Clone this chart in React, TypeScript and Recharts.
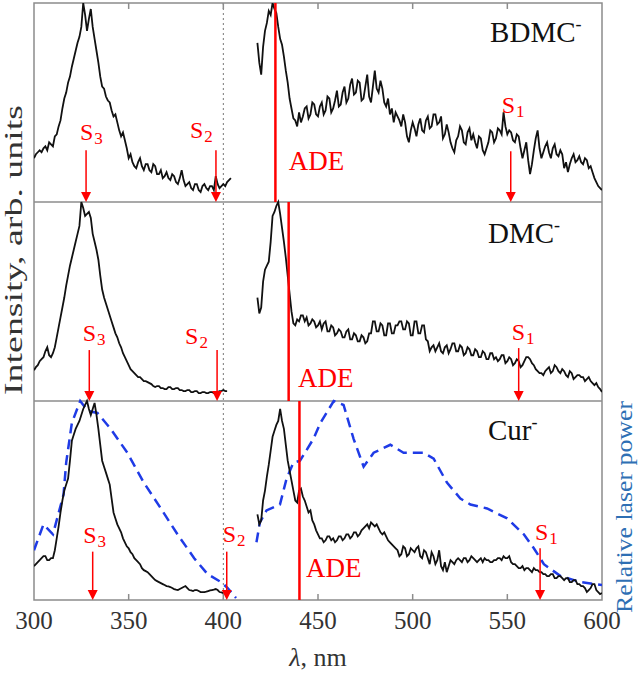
import React from 'react';
import { LineChart, Line, XAxis, YAxis, ReferenceLine, ReferenceArea, ReferenceDot } from 'recharts';

const FONT = '"Liberation Serif", "Times New Roman", Times, serif';
const RED = '#ff0000';
const DASH_BLUE = '#1f3be6';
const LABEL_BLUE = '#2e6fb4';
const FRAME = '#8c8c8c';

// wavelength grids (nm), 1 nm step
const leftX = [
  300, 301, 302, 303, 304, 305, 306, 307, 308, 309,
  310, 311, 312, 313, 314, 315, 316, 317, 318, 319,
  320, 321, 322, 323, 324, 325, 326, 327, 328, 329,
  330, 331, 332, 333, 334, 335, 336, 337, 338, 339,
  340, 341, 342, 343, 344, 345, 346, 347, 348, 349,
  350, 351, 352, 353, 354, 355, 356, 357, 358, 359,
  360, 361, 362, 363, 364, 365, 366, 367, 368, 369,
  370, 371, 372, 373, 374, 375, 376, 377, 378, 379,
  380, 381, 382, 383, 384, 385, 386, 387, 388, 389,
  390, 391, 392, 393, 394, 395, 396, 397, 398, 399,
  400, 401, 402, 403, 404,
];
const rightX = [
  418, 419, 420, 421, 422, 423, 424, 425, 426, 427,
  428, 429, 430, 431, 432, 433, 434, 435, 436, 437,
  438, 439, 440, 441, 442, 443, 444, 445, 446, 447,
  448, 449, 450, 451, 452, 453, 454, 455, 456, 457,
  458, 459, 460, 461, 462, 463, 464, 465, 466, 467,
  468, 469, 470, 471, 472, 473, 474, 475, 476, 477,
  478, 479, 480, 481, 482, 483, 484, 485, 486, 487,
  488, 489, 490, 491, 492, 493, 494, 495, 496, 497,
  498, 499, 500, 501, 502, 503, 504, 505, 506, 507,
  508, 509, 510, 511, 512, 513, 514, 515, 516, 517,
  518, 519, 520, 521, 522, 523, 524, 525, 526, 527,
  528, 529, 530, 531, 532, 533, 534, 535, 536, 537,
  538, 539, 540, 541, 542, 543, 544, 545, 546, 547,
  548, 549, 550, 551, 552, 553, 554, 555, 556, 557,
  558, 559, 560, 561, 562, 563, 564, 565, 566, 567,
  568, 569, 570, 571, 572, 573, 574, 575, 576, 577,
  578, 579, 580, 581, 582, 583, 584, 585, 586, 587,
  588, 589, 590, 591, 592, 593, 594, 595, 596, 597,
  598, 599, 600,
];

// BDMC- spectrum (normalised)
const bdmcLeft: (number | null)[] = [
  0.22, 0.24, 0.25, 0.26, 0.25, 0.27, 0.28, 0.26, 0.30, 0.29,
  0.28, 0.33, 0.34, 0.38, 0.41, 0.47, 0.52, 0.55, 0.60, 0.63,
  0.68, 0.72, 0.76, 0.80, 0.83, 0.88, 1.0, 0.94, 0.86, 0.92,
  0.97, 0.88, 0.82, 0.76, 0.70, 0.63, 0.58, 0.57, 0.53, 0.51,
  0.50, 0.46, 0.43, 0.44, 0.40, 0.36, 0.33, 0.35, 0.31, 0.27,
  0.22, 0.24, 0.20, 0.18, 0.17, 0.20, 0.22, 0.18, 0.16, 0.19,
  0.19, 0.16, 0.15, 0.19, 0.18, 0.14, 0.14, 0.16, 0.12, 0.13,
  0.15, 0.12, 0.11, 0.14, 0.13, 0.10, 0.09, 0.12, 0.16, 0.11,
  0.08, 0.09, 0.10, 0.07, 0.06, 0.09, 0.09, 0.06, 0.05, 0.08,
  0.09, 0.07, 0.06, 0.08, 0.08, 0.06, 0.13, 0.09, 0.07, 0.08,
  0.09, 0.08, 0.10, 0.11, 0.12,
];
const bdmcRight: (number | null)[] = [
  0.80, 0.70, 0.64, 0.78, 0.86, 0.90, 0.96, 0.94, 1.0, 0.97,
  0.95, 0.88, 0.82, 0.79, 0.73, 0.66, 0.60, 0.52, 0.47, 0.42,
  0.41, 0.38, 0.45, 0.40, 0.43, 0.47, 0.48, 0.42, 0.44, 0.50,
  0.49, 0.44, 0.43, 0.48, 0.50, 0.44, 0.46, 0.53, 0.52, 0.45,
  0.47, 0.51, 0.56, 0.48, 0.49, 0.55, 0.58, 0.50, 0.52, 0.59,
  0.62, 0.54, 0.55, 0.61, 0.60, 0.51, 0.52, 0.58, 0.64, 0.53,
  0.50, 0.58, 0.66, 0.57, 0.55, 0.61, 0.57, 0.50, 0.48, 0.52,
  0.44, 0.47, 0.40, 0.45, 0.43, 0.41, 0.38, 0.44, 0.40, 0.33,
  0.30, 0.36, 0.40, 0.37, 0.33, 0.39, 0.42, 0.36, 0.35, 0.41,
  0.43, 0.37, 0.38, 0.44, 0.44, 0.39, 0.40, 0.43, 0.32, 0.34,
  0.39, 0.35, 0.30, 0.27, 0.25, 0.31, 0.33, 0.38, 0.36, 0.30,
  0.29, 0.35, 0.37, 0.31, 0.34, 0.30, 0.27, 0.33, 0.32, 0.26,
  0.24, 0.27, 0.30, 0.36, 0.35, 0.30, 0.32, 0.37, 0.36, 0.34,
  0.45, 0.38, 0.34, 0.36, 0.35, 0.31, 0.30, 0.34, 0.33, 0.27,
  0.22, 0.26, 0.30, 0.21, 0.14, 0.19, 0.26, 0.32, 0.36, 0.27,
  0.22, 0.25, 0.28, 0.30, 0.25, 0.22, 0.27, 0.29, 0.24, 0.23,
  0.26, 0.24, 0.17, 0.20, 0.15, 0.19, 0.22, 0.24, 0.20, 0.21,
  0.23, 0.20, 0.19, 0.22, 0.21, 0.17, 0.18, 0.15, 0.12, 0.10,
  0.08, 0.07, 0.06,
];

// DMC- spectrum
const dmcLeft: (number | null)[] = [
  0.155, 0.17, 0.18, 0.20, 0.21, 0.22, 0.25, 0.27, 0.23, 0.22,
  0.24, 0.27, 0.32, 0.37, 0.42, 0.47, 0.52, 0.58, 0.63, 0.68,
  0.72, 0.76, 0.80, 0.84, 0.88, 1.0, 0.97, 0.93, 0.94, 0.95,
  0.92, 0.84, 0.80, 0.76, 0.71, 0.63, 0.56, 0.52, 0.49, 0.46,
  0.43, 0.40, 0.37, 0.34, 0.32, 0.29, 0.27, 0.24, 0.22, 0.20,
  0.18, 0.16, 0.15, 0.14, 0.13, 0.12, 0.12, 0.11, 0.10, 0.10,
  0.095, 0.09, 0.085, 0.075, 0.07, 0.075, 0.075, 0.065, 0.065, 0.06,
  0.06, 0.07, 0.07, 0.06, 0.06, 0.065, 0.065, 0.055, 0.055, 0.05,
  0.05, 0.055, 0.055, 0.045, 0.045, 0.05, 0.05, 0.04, 0.04, 0.045,
  0.045, 0.04, 0.04, 0.045, 0.045, 0.04, 0.04, 0.045, 0.05, 0.05,
  0.055, 0.05, 0.05, null, null,
];
const dmcRight: (number | null)[] = [
  0.52, 0.44, 0.47, 0.60, 0.66, 0.68, 0.70, 0.80, 0.93, 0.95,
  0.98, 1.0, 0.94, 0.87, 0.80, 0.72, 0.63, 0.54, 0.45, 0.39,
  0.38, 0.41, 0.40, 0.43, 0.43, 0.40, 0.42, 0.38, 0.39, 0.41,
  0.40, 0.37, 0.38, 0.40, 0.36, 0.39, 0.40, 0.35, 0.35, 0.38,
  0.37, 0.33, 0.34, 0.36, 0.35, 0.32, 0.32, 0.35, 0.36, 0.31,
  0.31, 0.34, 0.33, 0.30, 0.30, 0.33, 0.32, 0.29, 0.30, 0.34,
  0.34, 0.40, 0.40, 0.35, 0.35, 0.39, 0.38, 0.33, 0.33, 0.39,
  0.39, 0.34, 0.34, 0.38, 0.38, 0.40, 0.40, 0.36, 0.36, 0.40,
  0.39, 0.33, 0.33, 0.40, 0.40, 0.34, 0.34, 0.38, 0.38, 0.31,
  0.30, 0.25, 0.27, 0.28, 0.25, 0.27, 0.29, 0.25, 0.24, 0.27,
  0.28, 0.24, 0.26, 0.29, 0.29, 0.25, 0.25, 0.28, 0.27, 0.23,
  0.24, 0.27, 0.26, 0.23, 0.23, 0.26, 0.25, 0.22, 0.22, 0.25,
  0.24, 0.21, 0.21, 0.24, 0.24, 0.21, 0.22, 0.20, 0.21, 0.23,
  0.23, 0.19, 0.20, 0.22, 0.21, 0.18, 0.19, 0.21, 0.20, 0.17,
  0.18, 0.20, 0.22, 0.22, 0.21, 0.19, 0.18, 0.16, 0.15, 0.14,
  0.14, 0.13, 0.15, 0.16, 0.17, 0.14, 0.15, 0.18, 0.17, 0.15,
  0.14, 0.16, 0.15, 0.13, 0.12, 0.15, 0.14, 0.11, 0.12, 0.13,
  0.13, 0.12, 0.12, 0.10, 0.11, 0.12, 0.10, 0.09, 0.08, 0.09,
  0.07, 0.06, 0.045,
];

// Cur- spectrum
const curLeft: (number | null)[] = [
  0.17, 0.18, 0.19, 0.20, 0.21, 0.22, 0.22, 0.20, 0.20, 0.21,
  0.21, 0.25, 0.31, 0.37, 0.44, 0.50, 0.55, 0.58, 0.61, 0.70,
  0.80, 0.83, 0.86, 0.88, 0.90, 0.93, 0.96, 0.98, 1.0, 0.96,
  0.93, 0.96, 0.99, 0.93, 0.86, 0.78, 0.70, 0.67, 0.64, 0.61,
  0.58, 0.51, 0.44, 0.41, 0.38, 0.36, 0.34, 0.31, 0.29, 0.27,
  0.26, 0.24, 0.23, 0.21, 0.20, 0.19, 0.18, 0.16, 0.15, 0.145,
  0.14, 0.13, 0.12, 0.11, 0.10, 0.095, 0.09, 0.085, 0.08, 0.075,
  0.07, 0.068, 0.065, 0.06, 0.055, 0.052, 0.05, 0.055, 0.06, 0.065,
  0.07, 0.06, 0.05, 0.048, 0.045, 0.05, 0.05, 0.045, 0.04, 0.04,
  0.04, 0.042, 0.045, 0.048, 0.05, 0.052, 0.055, 0.05, 0.04, 0.038,
  0.035, null, null, null, null,
];
const curRight: (number | null)[] = [
  0.43, 0.38, 0.40, 0.50, 0.55, 0.62, 0.68, 0.75, 0.82, 0.85,
  0.88, 0.90, 0.96, 0.90, 0.86, 0.78, 0.70, 0.65, 0.60, 0.55,
  0.50, 0.49, 0.55, 0.56, 0.52, 0.50, 0.47, 0.44, 0.45, 0.40,
  0.38, 0.35, 0.33, 0.31, 0.31, 0.29, 0.30, 0.32, 0.32, 0.30,
  0.31, 0.29, 0.30, 0.32, 0.32, 0.30, 0.31, 0.33, 0.33, 0.31,
  0.32, 0.34, 0.34, 0.32, 0.33, 0.35, 0.36, 0.37, 0.38, 0.36,
  0.39, 0.38, 0.37, 0.38, 0.36, 0.34, 0.33, 0.34, 0.32, 0.30,
  0.29, 0.28, 0.27, 0.26, 0.25, 0.22, 0.23, 0.27, 0.26, 0.22,
  0.23, 0.26, 0.25, 0.24, 0.26, 0.27, 0.22, 0.21, 0.25, 0.24,
  0.21, 0.18, 0.24, 0.22, 0.18, 0.20, 0.25, 0.17, 0.15, 0.19,
  0.14, 0.17, 0.20, 0.19, 0.18, 0.20, 0.21, 0.20, 0.19, 0.21,
  0.21, 0.19, 0.20, 0.22, 0.21, 0.20, 0.19, 0.20, 0.21, 0.19,
  0.21, 0.20, 0.20, 0.19, 0.19, 0.20, 0.20, 0.21, 0.21, 0.20,
  0.22, 0.21, 0.21, 0.22, 0.19, 0.18, 0.18, 0.17, 0.16, 0.16,
  0.17, 0.15, 0.16, 0.16, 0.15, 0.14, 0.16, 0.15, 0.15, 0.14,
  0.14, 0.13, 0.13, 0.12, 0.12, 0.13, 0.13, 0.11, 0.11, 0.12,
  0.12, 0.11, 0.10, 0.11, 0.11, 0.09, 0.09, 0.10, 0.10, 0.08,
  0.08, 0.07, 0.07, 0.06, 0.04, 0.05, 0.06, 0.08, 0.08, 0.05,
  0.04, 0.03, 0.035,
];

// relative laser power (blue dashed)
const laserLeftX = [300, 305, 310, 315.6, 317, 320, 324.4, 328.4, 333.5, 340.5, 349.3, 358, 367, 375.8, 384.6, 391.7, 398.8, 402.3, 406.7];
const laserLeftY = [0.25, 0.38, 0.33, 0.53, 0.69, 0.89, 1.0, 0.95, 0.94, 0.86, 0.74, 0.59, 0.46, 0.33, 0.21, 0.13, 0.09, 0.06, 0.01];
const laserRightX = [417.5, 419.3, 422.8, 429.9, 433.4, 437, 440.5, 447.6, 451.3, 458.3, 463.5, 468.8, 474.1, 479.4, 488.2, 495.2, 505.8, 511.1, 518.1, 525.2, 530.5, 539.3, 549.9, 558.7, 564, 569.3, 578.1, 588.7, 600];
const laserRightY = [0.29, 0.39, 0.45, 0.48, 0.61, 0.69, 0.70, 0.81, 0.89, 1.0, 0.98, 0.81, 0.67, 0.74, 0.78, 0.74, 0.74, 0.71, 0.59, 0.51, 0.48, 0.46, 0.41, 0.33, 0.26, 0.18, 0.12, 0.09, 0.075];

// panels (top to bottom)
const panelNames = ['BDMC', 'DMC', 'Cur'];
const panelNameX = [540.9, 539.8, 539.8];
const panelNameY = [0.804, 0.794, 0.804];
const panelOffsets = [2, 1, 0];
const spectraLeft = [bdmcLeft, dmcLeft, curLeft];
const spectraRight = [bdmcRight, dmcRight, curRight];

// annotations: ADE and excited levels S3, S2, S1
const adeX = [427.5, 434.5, 440.2];
const adeLabelX = [434.6, 439.5, 443.7];
const adeLabelY = [0.16, 0.07, 0.117];
const levelSubs = ['3', '2', '1'];
const levelX = [[327.5, 396.1, 551.8], [329.2, 396.7, 556.0], [331.0, 401.8, 567.3]];
const levelTop = [[0.26, 0.26, 0.255], [0.256, 0.256, 0.266], [0.243, 0.243, 0.26]];
const levelLabelX = [[324.3, 382.4, 547.0], [325.7, 379.8, 552.3], [326.0, 399.7, 564.6]];
const levelLabelY = [[0.31, 0.32, 0.447], [0.30, 0.285, 0.307], [0.285, 0.293, 0.30]];

const xTicks = [300, 350, 400, 450, 500, 550, 600];
const innerTicks = [350, 400, 450, 500, 550];

type Pt = { x: number; y: number | null };
const toPoints = (xs: number[], ys: (number | null)[], off: number): Pt[] =>
  xs.map((x, i) => ({ x, y: ys[i] == null ? null : (ys[i] as number) + off }));

const ArrowShape = (p: any) => {
  const { x1, y1, x2, y2 } = p;
  const h = 10;
  const w = 5;
  return (
    <g>
      <line x1={x1} y1={y1} x2={x2} y2={y2 - h + 1} stroke={RED} strokeWidth={1.5} />
      <polygon points={`${x2 - w},${y2 - h} ${x2 + w},${y2 - h} ${x2},${y2}`} fill={RED} />
    </g>
  );
};

export default function App() {
  return (
    <div style={{ position: 'absolute', left: 0, top: 0, width: 640, height: 674, background: '#fff' }}>
      <LineChart width={640} height={674} margin={{ top: 3, right: 0, bottom: 0, left: 0 }}>
        <XAxis
          dataKey="x"
          type="number"
          domain={[300, 600]}
          ticks={xTicks}
          interval={0}
          allowDataOverflow
          height={74}
          axisLine={false}
          tickLine={false}
          tickSize={0}
          tickMargin={0}
          tick={(p: any) => (
            <text x={p.x} y={p.y + 29} textAnchor="middle" fontFamily={FONT} fontSize={25} fill="#333">
              {p.payload.value}
            </text>
          )}
          label={{
            content: (p: any) => {
              const vb = p.viewBox || { x: 34, y: 600, width: 568 };
              return (
                <text x={vb.x + vb.width / 2} y={vb.y + 66} textAnchor="middle" fontFamily={FONT} fontSize={26} fill="#333">
                  <tspan fontStyle="italic">λ</tspan>, nm
                </text>
              );
            },
          }}
        />
        <YAxis
          yAxisId="l"
          type="number"
          domain={[0, 3]}
          allowDataOverflow
          width={34}
          tick={false}
          axisLine={false}
          tickLine={false}
          label={{
            content: () => (
              <text
                transform="translate(22,250) rotate(-90)"
                textAnchor="middle"
                fontFamily={FONT}
                fontSize={25}
                fill="#333"
                textLength={290}
                lengthAdjust="spacingAndGlyphs"
              >
                Intensity, arb. units
              </text>
            ),
          }}
        />
        <YAxis
          yAxisId="r"
          orientation="right"
          type="number"
          domain={[0, 3]}
          allowDataOverflow
          width={38}
          tick={false}
          axisLine={false}
          tickLine={false}
          label={{
            content: () => (
              <text
                transform="translate(632,507) rotate(-90)"
                textAnchor="middle"
                fontFamily={FONT}
                fontSize={23}
                fill={LABEL_BLUE}
                textLength={212}
                lengthAdjust="spacingAndGlyphs"
              >
                Relative laser power
              </text>
            ),
          }}
        />

        <ReferenceArea yAxisId="l" x1={300} x2={600} y1={0} y2={3} fill="none" stroke={FRAME} strokeWidth={1.5} ifOverflow="visible" />
        <ReferenceLine yAxisId="l" y={1} stroke={FRAME} strokeWidth={1.5} />
        <ReferenceLine yAxisId="l" y={2} stroke={FRAME} strokeWidth={1.5} />
        <ReferenceLine yAxisId="l" x={400} stroke="#777" strokeWidth={1} strokeDasharray="2 3" />
        {innerTicks.map((t) => (
          <ReferenceLine key={`tt${t}`} yAxisId="l" segment={[{ x: t, y: 3 }, { x: t, y: 2.97 }]} stroke={FRAME} strokeWidth={1.5} />
        ))}
        {innerTicks.map((t) => (
          <ReferenceLine key={`bt${t}`} yAxisId="l" segment={[{ x: t, y: 0 }, { x: t, y: 0.03 }]} stroke={FRAME} strokeWidth={1.5} />
        ))}

        <Line
          yAxisId="r"
          data={toPoints(laserLeftX, laserLeftY, 0)}
          dataKey="y"
          stroke={DASH_BLUE}
          strokeWidth={2.5}
          strokeDasharray="10 6"
          dot={false}
          isAnimationActive={false}
          type="linear"
        />
        <Line
          yAxisId="r"
          data={toPoints(laserRightX, laserRightY, 0)}
          dataKey="y"
          stroke={DASH_BLUE}
          strokeWidth={2.5}
          strokeDasharray="10 6"
          dot={false}
          isAnimationActive={false}
          type="linear"
        />
        {panelOffsets.map((off, k) => (
          <Line
            key={`sl${k}`}
            yAxisId="l"
            data={toPoints(leftX, spectraLeft[k], off)}
            dataKey="y"
            stroke="#111"
            strokeWidth={1.8}
            dot={false}
            isAnimationActive={false}
            type="linear"
            connectNulls={false}
          />
        ))}
        {panelOffsets.map((off, k) => (
          <Line
            key={`sr${k}`}
            yAxisId="l"
            data={toPoints(rightX, spectraRight[k], off)}
            dataKey="y"
            stroke="#111"
            strokeWidth={1.8}
            dot={false}
            isAnimationActive={false}
            type="linear"
            connectNulls={false}
          />
        ))}

        {panelOffsets.map((off, k) => (
          <ReferenceLine
            key={`ade${k}`}
            yAxisId="l"
            segment={[{ x: adeX[k], y: off }, { x: adeX[k], y: off + 1 }]}
            stroke={RED}
            strokeWidth={2.5}
          />
        ))}
        {panelOffsets.map((off, k) => (
          <ReferenceDot
            key={`adel${k}`}
            yAxisId="l"
            x={adeLabelX[k]}
            y={off + adeLabelY[k]}
            r={0}
            ifOverflow="visible"
            shape={(p: any) => (
              <text x={p.cx} y={p.cy} fontFamily={FONT} fontSize={27} fill={RED}>
                ADE
              </text>
            )}
          />
        ))}
        {panelOffsets.map((off, k) =>
          levelSubs.map((s, j) => (
            <ReferenceLine
              key={`ar${k}${j}`}
              yAxisId="l"
              segment={[{ x: levelX[k][j], y: off + levelTop[k][j] }, { x: levelX[k][j], y: off }]}
              shape={ArrowShape}
            />
          ))
        )}
        {panelOffsets.map((off, k) =>
          levelSubs.map((s, j) => (
            <ReferenceDot
              key={`lv${k}${j}`}
              yAxisId="l"
              x={levelLabelX[k][j]}
              y={off + levelLabelY[k][j]}
              r={0}
              ifOverflow="visible"
              shape={(p: any) => (
                <text x={p.cx} y={p.cy} fontFamily={FONT} fontSize={24} fill={RED}>
                  S
                  <tspan dx={1} dy={4} fontSize={17}>
                    {s}
                  </tspan>
                </text>
              )}
            />
          ))
        )}
        {panelOffsets.map((off, k) => (
          <ReferenceDot
            key={`pn${k}`}
            yAxisId="l"
            x={panelNameX[k]}
            y={off + panelNameY[k]}
            r={0}
            ifOverflow="visible"
            shape={(p: any) => (
              <text x={p.cx} y={p.cy} fontFamily={FONT} fontSize={29} fill="#111">
                {panelNames[k]}
                <tspan dy={-12} fontSize={18}>
                  -
                </tspan>
              </text>
            )}
          />
        ))}
      </LineChart>
    </div>
  );
}
